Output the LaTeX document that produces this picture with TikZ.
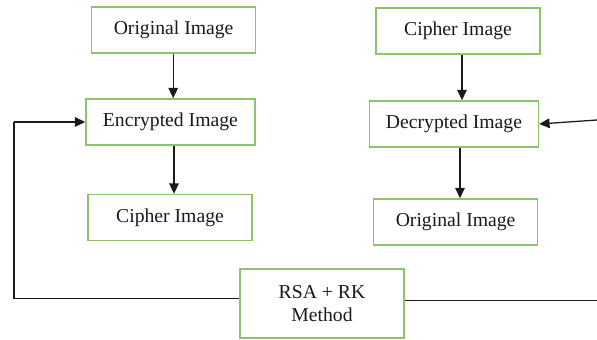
\documentclass[tikz,border=0pt]{standalone}
\usepackage{fontspec}
\setmainfont{Liberation Serif}
\usepackage{xcolor}
\usepackage{tikz}
\usetikzlibrary{calc,arrows.meta}
\definecolor{boxgreen}{HTML}{8CC46C}
\definecolor{ink}{HTML}{1A1A1A}
\tikzset{
  box/.style={draw=boxgreen, line width=1.1pt, fill=white, minimum width=4.1cm,
    minimum height=1.15cm, inner sep=2pt, font=\fontsize{14}{17}\selectfont, text=ink},
  wide/.style={box, minimum width=4.22cm},
  flow/.style={draw=ink, line width=0.9pt, -{Triangle[length=0.26cm,width=0.24cm]}},
  wire/.style={draw=ink, line width=0.9pt},
}

\begin{document}
\begin{tikzpicture}
  \useasboundingbox (0,0) rectangle (14.925,-8.5);
  % encryption side
  \node[box] (orig1) at (4.34,-0.75) {Original Image};
  \node[wide] (enc) at (4.26,-3.05) {Encrypted Image};
  \node[box] (ciph1) at (4.25,-5.44) {Cipher Image};
  % decryption side
  \node[box] (ciph2) at (11.45,-0.78) {Cipher Image};
  \node[wide] (dec) at (11.35,-3.1) {Decrypted Image};
  \node[box] (orig2) at (11.39,-5.55) {Original Image};
  % key block
  \node[box, minimum height=1.73cm, align=center] (rsa) at (8.05,-7.59) {RSA + RK\\Method};
  \coordinate (lb) at (0.35,-7.47);
  \coordinate (lt) at (0.35,-3.05);
  \coordinate (rb) at (14.925,-7.52);
  \coordinate (rt) at (14.925,-3.0);
  \coordinate (a1) at (4.33,0);
  \coordinate (a2) at (4.35,0);
  \coordinate (a3) at (11.55,0);
  \coordinate (a4) at (11.5,0);
  \draw[flow] (orig1.south -| a1) -- (enc.north -| a1);
  \draw[flow] (enc.south -| a2) -- (ciph1.north -| a2);
  \draw[flow] (ciph2.south -| a3) -- (dec.north -| a3);
  \draw[flow] (dec.south -| a4) -- (orig2.north -| a4);
  \draw[wire] (rsa.west |- lb) -- (lb) -- (lt);
  \draw[flow] (lt) -- (enc.west);
  \draw[wire] (rsa.east |- rb) -- (rb);
  \draw[flow] (rt) -- (dec.east);
\end{tikzpicture}
\end{document}
